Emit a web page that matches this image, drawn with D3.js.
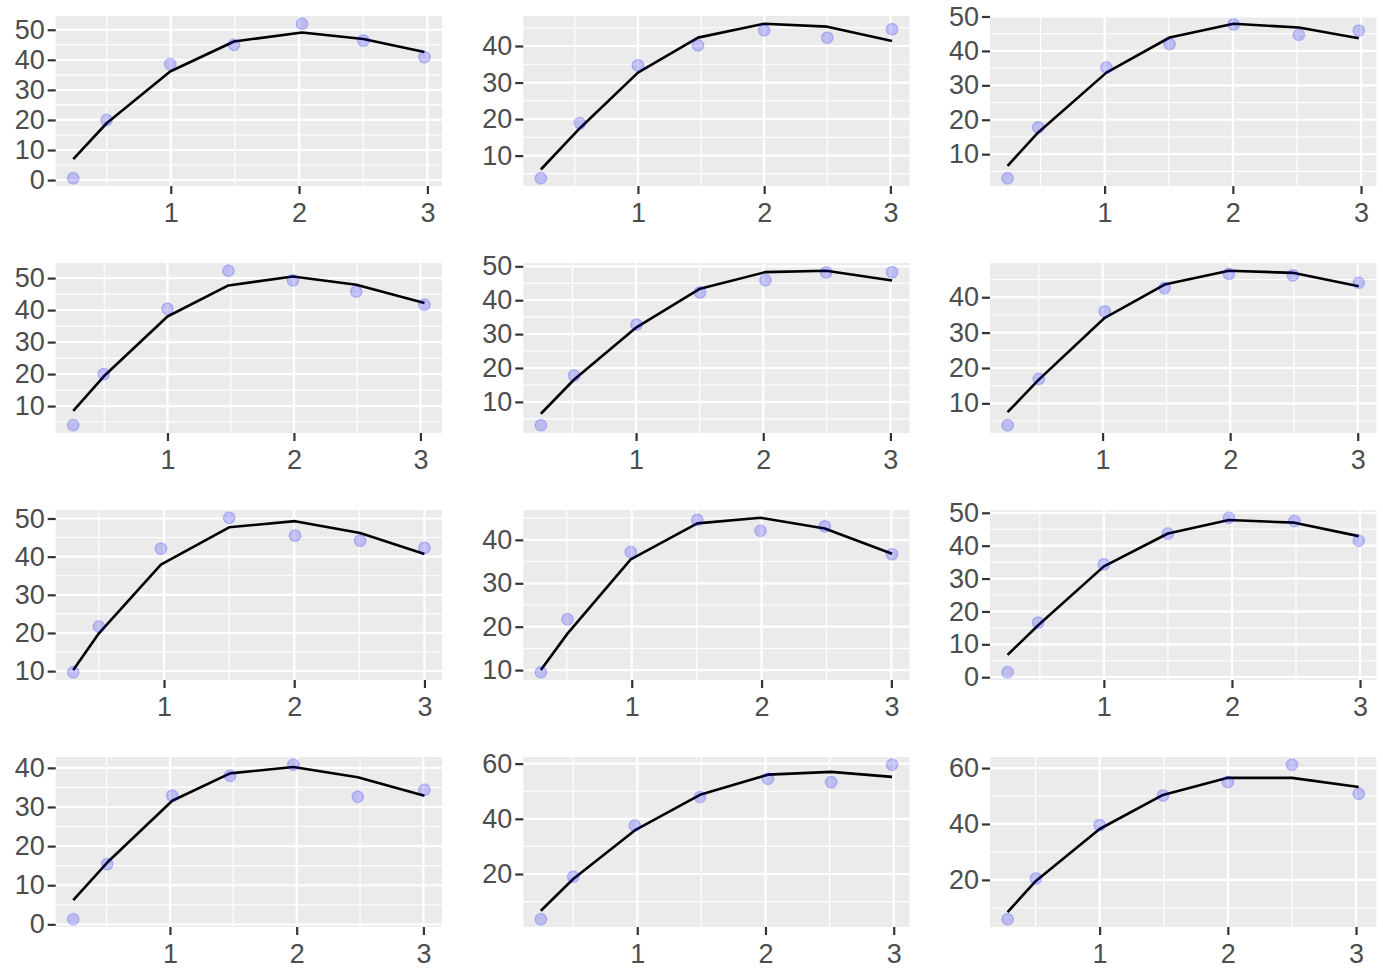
<!DOCTYPE html>
<html>
<head>
<meta charset="utf-8">
<script src="https://cdn.jsdelivr.net/npm/d3@7"></script>
<style>
  html, body { margin: 0; padding: 0; background: #ffffff; }
  svg { display: block; }
  .tick text { font-family: "Liberation Sans", Arial, sans-serif; }
</style>
</head>
<body>
<script>
// ---------- data (12 panels) ----------
const xPos = [
  [0.240, 0.500, 0.995, 1.493, 2.023, 2.501, 2.977],
  [0.231, 0.540, 1.000, 1.476, 2.000, 2.500, 3.013],
  [0.243, 0.482, 1.014, 1.507, 2.006, 2.515, 2.982],
  [0.255, 0.497, 1.000, 1.482, 1.992, 2.493, 3.032],
  [0.251, 0.513, 1.003, 1.503, 2.018, 2.495, 3.013],
  [0.255, 0.500, 1.017, 1.486, 1.990, 2.491, 3.008],
  [0.303, 0.500, 0.976, 1.500, 2.006, 2.506, 3.000],
  [0.300, 0.505, 0.992, 1.505, 1.992, 2.487, 3.005],
  [0.248, 0.487, 1.000, 1.500, 1.976, 2.488, 2.990],
  [0.237, 0.505, 1.018, 1.474, 1.974, 2.482, 3.008],
  [0.248, 0.500, 0.980, 1.489, 2.019, 2.512, 2.987],
  [0.282, 0.503, 1.000, 1.494, 2.000, 2.500, 3.021]
];
const yObserved = [
  [0.6, 20.0, 38.6, 45.0, 52.0, 46.4, 40.9],
  [3.8, 18.9, 34.7, 40.2, 44.3, 42.3, 44.6],
  [3.0, 17.8, 35.2, 42.0, 47.7, 44.7, 45.9],
  [4.0, 20.0, 40.4, 52.3, 49.3, 45.8, 41.7],
  [3.1, 17.8, 32.8, 42.3, 45.9, 48.2, 48.3],
  [3.8, 16.9, 36.0, 42.6, 46.6, 46.2, 44.1],
  [9.7, 21.7, 42.1, 50.2, 45.5, 44.2, 42.3],
  [9.5, 21.7, 37.2, 44.6, 42.1, 43.1, 36.7],
  [1.5, 16.6, 34.3, 43.7, 48.5, 47.5, 41.5],
  [1.3, 15.4, 32.9, 38.0, 40.8, 32.6, 34.4],
  [3.6, 19.0, 37.6, 47.9, 54.5, 53.3, 59.6],
  [5.9, 20.5, 39.6, 50.2, 55.0, 61.2, 50.8]
];
const yFitted = [
  [7.0, 18.9, 36.1, 46.1, 49.1, 46.9, 42.6],
  [6.2, 17.5, 32.7, 42.3, 46.1, 45.3, 41.4],
  [6.6, 16.3, 33.7, 43.9, 47.9, 46.8, 43.7],
  [8.5, 19.3, 38.0, 47.7, 50.5, 47.9, 42.2],
  [6.5, 16.6, 32.0, 43.4, 48.3, 48.7, 45.8],
  [7.5, 16.7, 34.2, 43.6, 47.5, 46.9, 43.1],
  [10.3, 19.9, 37.9, 47.7, 49.3, 46.2, 40.7],
  [10.0, 18.4, 35.5, 43.8, 45.1, 42.6, 36.8],
  [6.8, 15.8, 33.7, 43.7, 47.8, 47.0, 42.9],
  [6.2, 15.8, 31.6, 38.6, 40.2, 37.6, 32.9],
  [6.7, 18.2, 35.8, 48.7, 56.0, 57.0, 55.2],
  [8.5, 19.6, 38.2, 50.4, 56.5, 56.5, 53.2]
];
const yTickSets = [
  [0, 10, 20, 30, 40, 50],
  [10, 20, 30, 40],
  [10, 20, 30, 40, 50],
  [10, 20, 30, 40, 50],
  [10, 20, 30, 40, 50],
  [10, 20, 30, 40],
  [10, 20, 30, 40, 50],
  [10, 20, 30, 40],
  [0, 10, 20, 30, 40, 50],
  [0, 10, 20, 30, 40],
  [20, 40, 60],
  [20, 40, 60]
];
const xTickValues = [1, 2, 3];

// ---------- layout ----------
const W = 1383, H = 968;
const colLeft = [55.7, 523.3, 990];
const rowTop = [16, 263, 510, 757];
const pw = 386.3, ph = 170;

const svg = d3.select("body").append("svg").attr("width", W).attr("height", H);

function minorBreaks(major, lo, hi) {
  const step = major[1] - major[0];
  const out = [];
  for (let k = -1; k < major.length; k++) {
    const v = major[0] + (k + 0.5) * step;
    if (v >= lo && v <= hi) out.push(v);
  }
  return out;
}

for (let i = 0; i < 12; i++) {
  const r = Math.floor(i / 3), c = i % 3;
  const g = svg.append("g").attr("transform", `translate(${colLeft[c]},${rowTop[r]})`);

  const xe = d3.extent(xPos[i]);
  const xpad = 0.05 * (xe[1] - xe[0]);
  const x = d3.scaleLinear().domain([xe[0] - xpad, xe[1] + xpad]).range([0, pw]);

  const ye = d3.extent(yObserved[i].concat(yFitted[i]));
  const ypad = 0.05 * (ye[1] - ye[0]);
  const y = d3.scaleLinear().domain([ye[0] - ypad, ye[1] + ypad]).range([ph, 0]);

  g.append("rect").attr("width", pw).attr("height", ph).attr("fill", "#EBEBEB");

  const xd = x.domain(), yd = y.domain();
  const xMinor = minorBreaks(xTickValues, xd[0], xd[1]);
  const yMinor = minorBreaks(yTickSets[i], yd[0], yd[1]);

  g.selectAll(".ymin").data(yMinor).join("line")
    .attr("x1", 0).attr("x2", pw).attr("y1", d => y(d)).attr("y2", d => y(d))
    .attr("stroke", "#ffffff").attr("stroke-width", 1.1);
  g.selectAll(".xmin").data(xMinor).join("line")
    .attr("y1", 0).attr("y2", ph).attr("x1", d => x(d)).attr("x2", d => x(d))
    .attr("stroke", "#ffffff").attr("stroke-width", 1.1);
  g.selectAll(".ymaj").data(yTickSets[i]).join("line")
    .attr("x1", 0).attr("x2", pw).attr("y1", d => y(d)).attr("y2", d => y(d))
    .attr("stroke", "#ffffff").attr("stroke-width", 2.2);
  g.selectAll(".xmaj").data(xTickValues).join("line")
    .attr("y1", 0).attr("y2", ph).attr("x1", d => x(d)).attr("x2", d => x(d))
    .attr("stroke", "#ffffff").attr("stroke-width", 2.2);

  const pts = xPos[i].map((xv, k) => ({ x: xv, obs: yObserved[i][k], fit: yFitted[i][k] }));

  g.append("path").datum(pts)
    .attr("fill", "none").attr("stroke", "#000000").attr("stroke-width", 2.6)
    .attr("stroke-linejoin", "round")
    .attr("d", d3.line().x(d => x(d.x)).y(d => y(d.fit)));

  g.selectAll("circle").data(pts).join("circle")
    .attr("cx", d => x(d.x)).attr("cy", d => y(d.obs)).attr("r", 5.8)
    .attr("fill", "#0000FF").attr("fill-opacity", 0.2)
    .attr("stroke", "#0000FF").attr("stroke-opacity", 0.2).attr("stroke-width", 1.3);

  const ax = g.append("g").attr("transform", `translate(0,${ph})`)
    .call(d3.axisBottom(x).tickValues(xTickValues).tickFormat(d3.format("d")).tickSize(8).tickPadding(9));
  const ay = g.append("g")
    .call(d3.axisLeft(y).tickValues(yTickSets[i]).tickFormat(d3.format("d")).tickSize(8).tickPadding(3));
  [ax, ay].forEach(a => {
    a.select(".domain").remove();
    a.selectAll(".tick line").attr("stroke", "#333333").attr("stroke-width", 2.2);
    a.selectAll(".tick text").attr("fill", "#4D4D4D").attr("font-size", 27);
  });
}
</script>
</body>
</html>
